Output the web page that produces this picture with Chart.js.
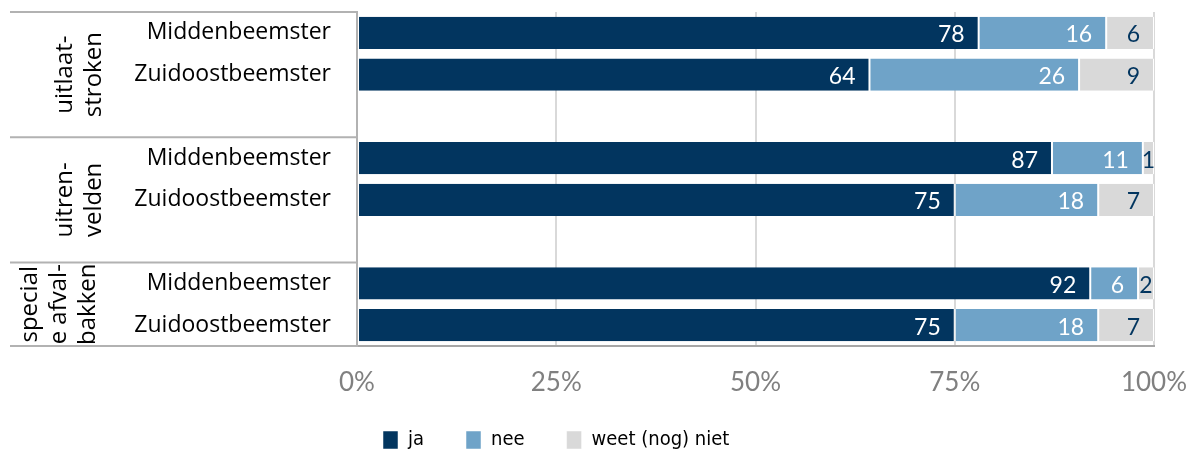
<!DOCTYPE html>
<html>
<head>
<meta charset="utf-8">
<script src="https://cdn.jsdelivr.net/npm/chart.js@4/dist/chart.umd.min.js"></script>
<style>
  html, body { margin: 0; padding: 0; background: #fff; overflow: hidden; }
  canvas { display: block; }
</style>
</head>
<body>
<canvas id="chart" width="1196" height="455"></canvas>
<script>
// categories (empty strings are the spacer rows between groups)
const rowLabels = ['Middenbeemster', 'Zuidoostbeemster', '', 'Middenbeemster', 'Zuidoostbeemster', '', 'Middenbeemster', 'Zuidoostbeemster'];
const groupLabels = [['uitlaat-', 'stroken'], ['uitren-', 'velden'], ['special', 'e afval-', 'bakken']];
const groupRows = [[0, 2], [3, 5], [6, 7]];

// series values (percent, shown rounded in the bars)
const jaValues   = [78, 64.3, null, 87.2, 75, null, 92, 75];
const neeValues  = [16, 26.3, null, 11.4, 18, null, 6, 18];
const weetValues = [6, 9.4, null, 1.4, 7, null, 2, 7];
const seriesNames = ['ja', 'nee', 'weet (nog) niet'];

const xTicks = [0, 25, 50, 75, 100];

const navy = '#02355f';
const blue = '#6fa3c8';
const grey = '#d9d9d9';
const lineGrey = '#b2b2b2';
const labelFont = "'Open Sans', sans-serif";
const LEGEND_H = 50;

// value labels inside the bar segments
const valueLabels = {
	id: 'valueLabels',
	afterDatasetsDraw(chart){
		const ctx = chart.ctx;
		const colors = ['#ffffff', '#ffffff', navy];
		ctx.save();
		ctx.font = "23px 'Lato', sans-serif";
		ctx.textAlign = 'right';
		ctx.textBaseline = 'middle';
		chart.data.datasets.forEach((ds, di) => {
			const meta = chart.getDatasetMeta(di);
			meta.data.forEach((bar, i) => {
				const v = ds.data[i];
				if(v === null || v === undefined) return;
				const txt = String(Math.round(v));
				const w = ctx.measureText(txt).width;
				const start = bar.base, end = bar.x;
				let x = Math.max(end - 14, (start + end) / 2 + w / 2);
				ctx.fillStyle = colors[di];
				ctx.fillText(txt, x, bar.y + 2);
			});
		});
		ctx.restore();
	}
};

// table lines and rotated group labels on the left
const groupTable = {
	id: 'groupTable',
	afterDraw(chart){
		const ctx = chart.ctx;
		const y = chart.scales.y;
		const area = chart.chartArea;
		const slot = (area.bottom - area.top) / rowLabels.length;
		ctx.save();
		ctx.strokeStyle = lineGrey;
		ctx.lineWidth = 2;
		const bounds = [area.top];
		groupRows.forEach(g => bounds.push(y.getPixelForValue(g[1]) + slot / 2));
		bounds.forEach(b => {
			ctx.beginPath();
			ctx.moveTo(10, b);
			ctx.lineTo(area.left, b);
			ctx.stroke();
		});
		ctx.fillStyle = '#000';
		ctx.font = "24px " + labelFont;
		ctx.textAlign = 'center';
		ctx.textBaseline = 'middle';
		groupLabels.forEach((lines, gi) => {
			const cy = (bounds[gi] + bounds[gi + 1]) / 2;
			const centers = lines.length === 3 ? [30, 59, 88] : [65, 94];
			lines.forEach((ln, li) => {
				ctx.save();
				ctx.translate(centers[li], cy);
				ctx.rotate(-Math.PI / 2);
				ctx.fillText(ln, 0, 0);
				ctx.restore();
			});
		});
		ctx.restore();
	}
};

// place the legend below the axis, as in the original
const legendPlace = {
	id: 'legendPlace',
	afterLayout(chart){
		const lg = chart.legend;
		if(!lg) return;
		const pad = lg.options.labels.padding;
		lg.left = 383 - pad;
		lg.right = 1196;
		lg.top = 440 - pad - 10;
	}
};

const chart = new Chart(document.getElementById('chart'), {
	type: 'bar',
	data: {
		labels: rowLabels,
		datasets: [
			{ label: seriesNames[0], data: jaValues, backgroundColor: navy },
			{ label: seriesNames[1], data: neeValues, backgroundColor: blue },
			{ label: seriesNames[2], data: weetValues, backgroundColor: grey }
		].map(d => Object.assign(d, {
			borderColor: '#ffffff',
			borderWidth: { left: 1, right: 1, top: 0, bottom: 0 },
			borderSkipped: false,
			barPercentage: 0.77,
			categoryPercentage: 1
		}))
	},
	options: {
		indexAxis: 'y',
		responsive: false,
		animation: false,
		layout: { padding: { top: 12, left: 0, right: 42, bottom: 0 } },
		scales: {
			x: {
				stacked: true,
				min: 0,
				max: 100,
				afterBuildTicks(scale){ scale.ticks = xTicks.map(v => ({ value: v })); },
				afterFit(scale){
					scale.height = 455 - LEGEND_H - 346;
					scale.paddingLeft = 0;
					scale.paddingRight = 0;
				},
				ticks: {
					callback: v => v + '%',
					color: '#808080',
					font: { family: "'Lato', sans-serif", size: 26 },
					padding: 21,
					maxRotation: 0
				},
				grid: { color: ctx => ctx.index === 0 ? 'rgba(0,0,0,0)' : grey, lineWidth: 2, drawTicks: false },
				border: { color: '#a6a6a6', width: 2 }
			},
			y: {
				stacked: true,
				afterFit(scale){
					scale.width = 357;
					scale.paddingTop = 0;
					scale.paddingBottom = 0;
				},
				ticks: {
					color: '#000',
					font: { family: labelFont, size: 23 },
					padding: 26
				},
				grid: { display: false, drawTicks: false },
				border: { color: lineGrey, width: 2 }
			}
		},
		plugins: {
			legend: {
				position: 'bottom',
				align: 'start',
				labels: {
					boxWidth: 15,
					boxHeight: 18,
					padding: 42,
					color: '#000',
					font: { family: "'Liberation Sans Narrow', 'DejaVu Sans Condensed', sans-serif", size: 20 }
				}
			},
			tooltip: { enabled: false }
		}
	},
	plugins: [valueLabels, groupTable, legendPlace]
});

// keep the wide legend spacing from eating the plot height
const baseFit = chart.legend.fit;
chart.legend.fit = function(){
	baseFit.call(this);
	this.height = LEGEND_H;
};
chart.update();
</script>
</body>
</html>
